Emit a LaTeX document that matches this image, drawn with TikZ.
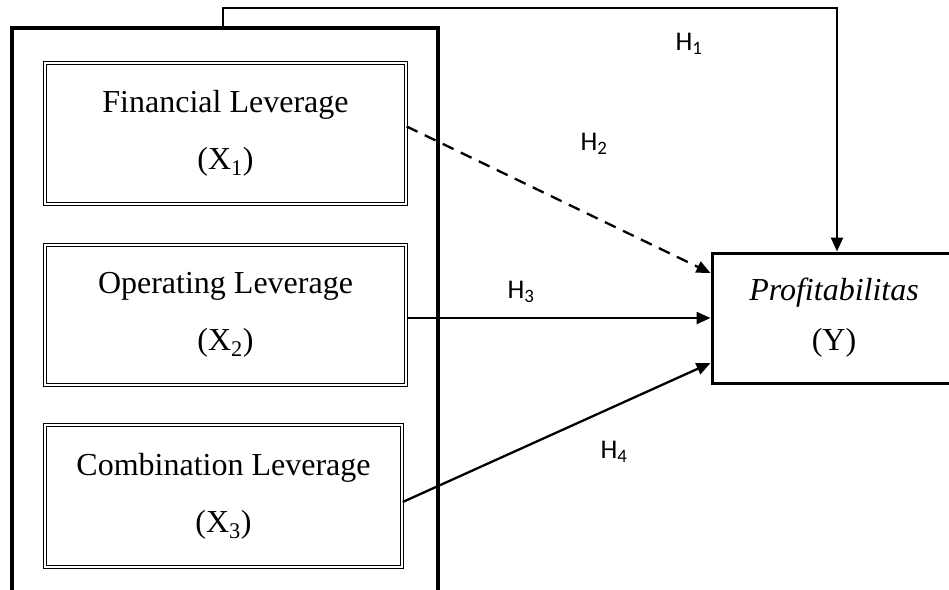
\documentclass[tikz,border=0pt]{standalone}
\usepackage{fontspec}
\setmainfont{Liberation Serif}
\newfontfamily\hfont{Carlito}
\usetikzlibrary{arrows.meta}
\begin{document}
\begin{tikzpicture}[x=1pt,y=-1pt,
  varbox/.style={draw,double=white,line width=1.4pt,double distance=1.3pt,inner sep=0pt,align=center,
    font=\fontsize{32}{57}\selectfont},
  ybox/.style={draw,line width=3pt,inner sep=0pt,align=center,font=\fontsize{32}{50}\selectfont},
  grpbox/.style={draw,line width=3.2pt,inner sep=0pt},
  conn/.style={line width=2.3pt,-{Triangle[length=14pt,width=12pt]}},
  hlab/.style={font=\hfont\fontsize{27}{30}\selectfont,inner sep=0pt}]
\useasboundingbox (0,0) rectangle (949,589);
\node[grpbox,minimum width=426pt,minimum height=576pt] (grp) at (225,316) {};
\node[varbox,minimum width=361pt,minimum height=141pt] (f) at (225.5,133.5) {Financial Leverage\\(X\textsubscript{1})};
\node[varbox,minimum width=361pt,minimum height=140pt] (o) at (225.5,315) {Operating Leverage\\(X\textsubscript{2})};
\node[varbox,minimum width=357pt,minimum height=142pt] (c) at (223.5,496) {Combination Leverage\\(X\textsubscript{3})};
\node[ybox,minimum width=244pt,minimum height=130pt] (Y) at (834,318) {\textit{Profitabilitas}\\(Y)};
\coordinate (gtop) at (223,28);
\coordinate (ytop) at (837,8);
\draw[conn] (gtop) -- (gtop |- ytop) -- (ytop) -- (ytop |- Y.north);
\draw[conn,dashed,dash pattern=on 12pt off 8pt] ([yshift=7pt]f.east) -- ([yshift=45pt]Y.west);
\draw[conn] (o.east |- Y.west) -- (Y.west);
\draw[conn] ([yshift=-6pt]c.east) -- ([yshift=-45pt]Y.west);
\node[hlab] (h1) at (689,44) {H\textsubscript{1}};
\node[hlab] (h2) at (594,144) {H\textsubscript{2}};
\node[hlab] (h3) at (521,292) {H\textsubscript{3}};
\node[hlab] (h4) at (614,452) {H\textsubscript{4}};
\end{tikzpicture}
\end{document}
